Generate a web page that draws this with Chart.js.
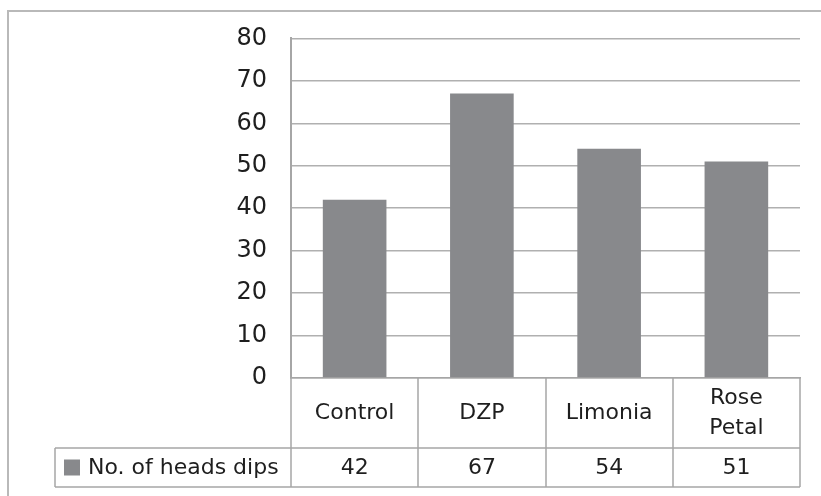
<!DOCTYPE html>
<html>
<head>
<meta charset="utf-8">
<script src="https://cdn.jsdelivr.net/npm/chart.js@4"></script>
<style>
html, body { margin: 0; padding: 0; background: #fff; }
#wrap { position: relative; width: 821px; height: 496px; overflow: hidden; }
#frame { position: absolute; left: 7px; top: 10px; width: 900px; height: 600px; border-left: 2px solid #b9b9b9; border-top: 2px solid #b9b9b9; }
canvas { position: absolute; left: 0; top: 0; }
</style>
</head>
<body>
<div id="wrap">
  <div id="frame"></div>
  <canvas id="chart" width="821" height="496"></canvas>
</div>
<script>
// data
const categories = [['Control'], ['DZP'], ['Limonia'], ['Rose', 'Petal']];
const seriesName = 'No. of heads dips';
const headDips = [42, 67, 54, 51];
const yMin = 0;
const yMax = 80;
const yStep = 10;

const barColor = '#88898c';
const lineColor = '#a6a6a6';
const textColor = '#1e1e1e';
const fontFamily = '"DejaVu Sans", sans-serif';

// draws the data table under the plot, lined up with the x scale
const tablePlugin = {
    id: 'dataTable',
    afterDraw(chart) {
        const { ctx, chartArea, scales } = chart;
        const x = scales.x;
        const n = categories.length;
        const w = (chartArea.right - chartArea.left) / n;
        const top = Math.round(chartArea.bottom);
        const mid = top + 70;
        const bot = mid + 39;
        const keyLeft = 55;

        ctx.save();
        ctx.strokeStyle = lineColor;
        ctx.lineWidth = 1.5;
        ctx.beginPath();
        // vertical lines
        for (let k = 0; k <= n; k++) {
            const lx = Math.round(chartArea.left + k * w);
            ctx.moveTo(lx, top);
            ctx.lineTo(lx, bot);
        }
        ctx.moveTo(keyLeft, mid);
        ctx.lineTo(keyLeft, bot);
        // horizontal lines
        ctx.moveTo(keyLeft, mid);
        ctx.lineTo(chartArea.right, mid);
        ctx.moveTo(keyLeft, bot);
        ctx.lineTo(chartArea.right, bot);
        ctx.stroke();

        ctx.fillStyle = textColor;
        ctx.font = '22px ' + fontFamily;
        ctx.textAlign = 'center';
        ctx.textBaseline = 'middle';
        categories.forEach((lines, i) => {
            const cx = x.getPixelForValue(i);
            const cy = (top + mid) / 2;
            const lh = 30;
            lines.forEach((t, j) => {
                ctx.fillText(t, cx, cy + (j - (lines.length - 1) / 2) * lh);
            });
        });
        headDips.forEach((v, i) => {
            ctx.fillText(String(v), x.getPixelForValue(i), (mid + bot) / 2 + 1);
        });

        // legend key + series name
        ctx.fillStyle = barColor;
        ctx.fillRect(64, (mid + bot) / 2 - 8, 16, 16);
        ctx.fillStyle = textColor;
        ctx.textAlign = 'left';
        ctx.fillText(seriesName, 88, (mid + bot) / 2 + 1);
        ctx.restore();
    }
};

const ctx = document.getElementById('chart').getContext('2d');
new Chart(ctx, {
    type: 'bar',
    data: {
        labels: categories,
        datasets: [{
            label: seriesName,
            data: headDips,
            backgroundColor: barColor,
            categoryPercentage: 1,
            barPercentage: 0.5
        }]
    },
    options: {
        responsive: false,
        animation: false,
        layout: { padding: { top: 38, right: 21, left: 0, bottom: 0 } },
        plugins: {
            legend: { display: false },
            tooltip: { enabled: false }
        },
        scales: {
            x: {
                ticks: { display: false },
                grid: { display: false },
                border: { display: true, color: lineColor, width: 1.5 },
                afterFit: s => { s.height = 118; }
            },
            y: {
                min: yMin,
                max: yMax,
                ticks: {
                    stepSize: yStep,
                    color: textColor,
                    font: { family: fontFamily, size: 24 },
                    padding: 24
                },
                grid: { color: '#b0b0b0', lineWidth: 1.5, drawTicks: false },
                border: { color: lineColor, width: 2 },
                afterFit: s => { s.width = 291; }
            }
        }
    },
    plugins: [tablePlugin]
});
</script>
</body>
</html>
